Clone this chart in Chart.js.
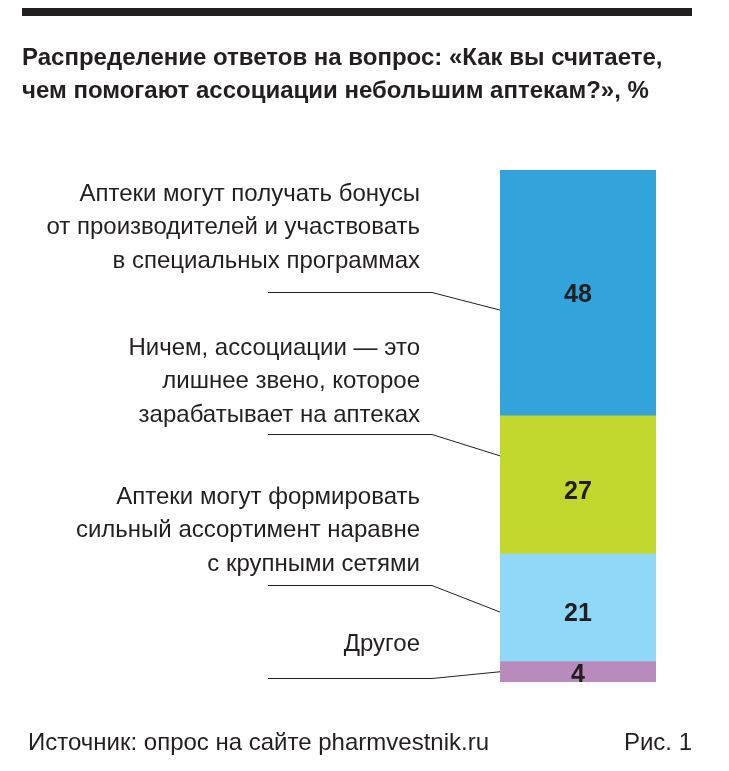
<!DOCTYPE html>
<html>
<head>
<meta charset="utf-8">
<script src="https://cdn.jsdelivr.net/npm/chart.js@4/dist/chart.umd.min.js"></script>
<style>
  html, body { margin: 0; padding: 0; background: #ffffff; }
  #wrap { position: relative; width: 729px; height: 771px; }
  canvas { display: block; }
</style>
</head>
<body>
<div id="wrap"><canvas id="c" width="729" height="771"></canvas></div>
<script>
// ---- DATA (top of stack to bottom) ----
const categories = [
  ["Аптеки могут получать бонусы", "от производителей и участвовать", "в специальных программах"],
  ["Ничем, ассоциации — это", "лишнее звено, которое", "зарабатывает на аптеках"],
  ["Аптеки могут формировать", "сильный ассортимент наравне", "с крупными сетями"],
  ["Другое"]
];
const values = [48, 27, 21, 4];
const colors = ["#33a3dc", "#c2d82f", "#8fd8f7", "#b98bbd"];
const titleLines = [
  "Распределение ответов на вопрос: «Как вы считаете,",
  "чем помогают ассоциации небольшим аптекам?», %"
];
const sourceText = "Источник: опрос на сайте pharmvestnik.ru";
const figText = "Рис. 1";

// layout (style only)
const labelBase = [201, 355, 504, 651];     // baseline of first line of each label
const lineStep = 33.3;
const leaderY = [292, 434, 585, 678];
const anchorFrac = [0.57, 0.29, 0.54, 0.5];
const valueShift = [0, 5, 4, 1];

// datasets bottom-to-top for stacking
const datasets = values.map((v, i) => ({
  label: categories[i].join(" "),
  data: [v],
  backgroundColor: colors[i],
  borderWidth: 0,
  barPercentage: 1,
  categoryPercentage: 1
})).reverse();

const TXT = "#231f20";
const FONT = "'Liberation Sans', Arial, sans-serif";
const overlay = {
  id: "overlay",
  afterDraw(chart) {
    const ctx = chart.ctx;
    ctx.save();
    // top rule
    ctx.fillStyle = TXT;
    ctx.fillRect(22, 8, 670, 8);
    // title
    ctx.font = "bold 24px " + FONT;
    ctx.textBaseline = "alphabetic";
    ctx.textAlign = "left";
    ctx.fillText(titleLines[0], 22, 65, 643);
    ctx.fillText(titleLines[1], 22, 98, 636);

    const n = values.length;
    for (let i = 0; i < n; i++) {
      const dsIndex = n - 1 - i;
      const el = chart.getDatasetMeta(dsIndex).data[0];
      const top = Math.min(el.y, el.base), bot = Math.max(el.y, el.base);
      // labels
      ctx.font = "24px " + FONT;
      ctx.textAlign = "right";
      ctx.textBaseline = "alphabetic";
      ctx.fillStyle = TXT;
      categories[i].forEach((ln, k) => ctx.fillText(ln, 420, labelBase[i] + k * lineStep));
      // leader
      ctx.strokeStyle = TXT;
      ctx.lineWidth = 1;
      ctx.beginPath();
      ctx.moveTo(268, leaderY[i] + 0.5);
      ctx.lineTo(432, leaderY[i] + 0.5);
      ctx.lineTo(el.x - el.width / 2, top + anchorFrac[i] * (bot - top));
      ctx.stroke();
      // value
      ctx.font = "bold 25px " + FONT;
      ctx.textAlign = "center";
      ctx.fillText(String(values[i]), el.x, (top + bot) / 2 + 9 + valueShift[i]);
    }
    // footer
    ctx.font = "24px " + FONT;
    ctx.textAlign = "left";
    ctx.textBaseline = "alphabetic";
    ctx.fillText(sourceText, 28, 750, 470);
    ctx.textAlign = "right";
    ctx.fillText(figText, 692, 750);
    ctx.restore();
  }
};

new Chart(document.getElementById("c"), {
  type: "bar",
  data: { labels: [""], datasets },
  options: {
    responsive: false,
    animation: false,
    layout: { padding: { top: 170, bottom: 89, left: 500, right: 73 } },
    scales: {
      x: { stacked: true, display: false },
      y: { stacked: true, display: false, min: 0, max: 100 }
    },
    plugins: { legend: { display: false }, tooltip: { enabled: false }, title: { display: false } }
  },
  plugins: [overlay]
});
</script>
</body>
</html>
